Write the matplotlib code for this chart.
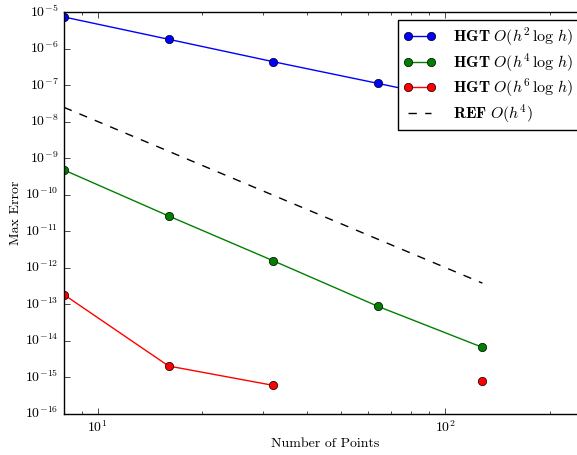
import numpy as np
import matplotlib
matplotlib.use('Agg')
import matplotlib.pyplot as plt

plt.style.use('classic')
plt.rcParams['font.family'] = 'serif'
plt.rcParams['font.serif'] = ['cmr10']
plt.rcParams['mathtext.fontset'] = 'cm'
plt.rcParams['axes.unicode_minus'] = False
plt.rcParams['axes.formatter.use_mathtext'] = True

# number of grid points and max errors for each scheme
n_points = [8, 16, 32, 64, 128]
err_h2 = [7.3e-6, 1.79e-6, 4.35e-7, 1.11e-7, 2.75e-8]
err_h4 = [4.69e-10, 2.58e-11, 1.53e-12, 8.65e-14, 6.5e-15]
err_h6 = [1.8e-13, 2.0e-15, 5.9e-16, np.nan, 7.76e-16]
ref_h4 = [2.44e-8, 1.53e-9, 9.54e-11, 5.96e-12, 3.73e-13]

fig = plt.figure(figsize=(5.77, 4.55), dpi=100, facecolor='white')
ax = fig.add_axes([64/577, 41.5/455, 523/577, 401.5/455])

ax.loglog(n_points, err_h2, 'bo-', label=r'$\mathbf{HGT}\ O(h^2\,\log\,h)$')
ax.loglog(n_points, err_h4, 'go-', label=r'$\mathbf{HGT}\ O(h^4\,\log\,h)$')
ax.loglog(n_points, err_h6, 'ro-', label=r'$\mathbf{HGT}\ O(h^6\,\log\,h)$')
ax.loglog(n_points, ref_h4, 'k--', label=r'$\mathbf{REF}\ O(h^4)$')

ax.set_xlim(8, 256)
ax.set_ylim(1e-16, 1e-5)
ax.set_xlabel('Number of Points', fontsize=10, labelpad=2)
ax.set_ylabel('Max Error', fontsize=10, labelpad=2)
ax.tick_params(labelsize=10)
ax.legend(loc='upper right', fontsize=11.5, numpoints=2, labelspacing=0.2,
          handlelength=2.0, handletextpad=1.1, borderpad=0.35,
          borderaxespad=0.5)

fig.savefig('out.png', dpi=100, facecolor='white')
